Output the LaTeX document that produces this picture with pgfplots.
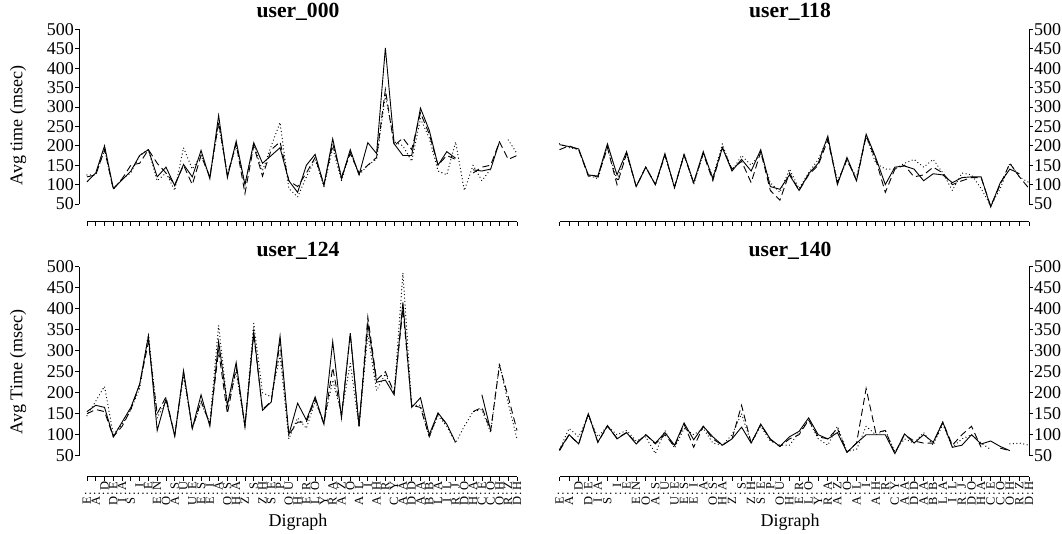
\documentclass[border=0pt]{standalone}
\usepackage{pgfplots}
\pgfplotsset{compat=1.18}
\usepackage{pgfplotstable}
\usepackage{fontspec}
\setmainfont{Liberation Serif}

\pgfplotstableread{
i s d t
0 107 120 125
1 130 125 125
2 200 190 190
3 90 88 88
4 112 115 115
5 135 150 130
6 175 155 175
7 190 190 190
8 120 155 110
9 145 130 130
10 97 100 85
11 152 150 195
12 120 100 140
13 188 175 175
14 115 120 120
15 278 260 255
16 118 125 125
17 212 205 200
18 100 77 100
19 208 200 205
20 155 122 135
21 175 190 200
22 195 210 260
23 110 110 90
24 80 95 68
25 150 130 120
26 178 170 165
27 98 100 95
28 218 205 195
29 115 120 110
30 190 180 185
31 125 130 125
32 208 150 150
33 180 170 165
34 452 345 330
35 205 200 210
36 175 220 200
37 175 190 160
38 297 285 270
39 240 230 220
40 150 150 135
41 185 175 125
42 168 165 210
43 nan nan 85
44 138 130 150
45 135 145 110
46 140 150 140
47 210 210 nan
48 nan 165 215
49 nan 175 180
}\userA

\pgfplotstableread{
i s d t
0 203 190 205
1 198 200 195
2 192 190 190
3 125 122 125
4 122 120 115
5 205 195 200
6 125 100 110
7 185 180 180
8 95 95 95
9 145 145 145
10 100 100 100
11 180 175 175
12 92 95 90
13 178 175 180
14 105 105 100
15 185 180 180
16 115 110 120
17 195 195 205
18 135 140 135
19 165 160 175
20 135 105 150
21 190 185 180
22 95 85 105
23 88 60 80
24 125 130 140
25 85 85 90
26 128 125 130
27 155 150 165
28 225 215 220
29 100 105 110
30 170 165 160
31 110 110 120
32 230 225 225
33 170 165 155
34 100 80 140
35 145 140 140
36 148 150 155
37 140 120 165
38 110 125 145
39 128 145 165
40 125 130 130
41 105 100 85
42 118 110 130
43 120 118 125
44 120 118 90
45 42 45 45
46 105 100 90
47 140 155 155
48 128 120 120
49 nan 90 105
}\userB

\pgfplotstableread{
i s d t
0 155 150 145
1 170 160 180
2 165 155 215
3 95 95 100
4 130 120 125
5 165 160 160
6 220 220 210
7 335 320 340
8 110 150 140
9 185 190 180
10 97 97 100
11 252 250 240
12 115 115 115
13 195 180 175
14 120 125 130
15 322 300 360
16 170 150 170
17 272 260 250
18 120 120 120
19 345 340 365
20 158 160 200
21 178 180 190
22 335 320 290
23 100 100 90
24 175 130 140
25 135 130 115
26 190 185 180
27 125 125 130
28 322 260 230
29 140 145 150
30 342 340 270
31 120 120 120
32 365 380 340
33 225 230 205
34 230 250 245
35 195 200 200
36 415 400 485
37 165 170 170
38 188 165 170
39 100 95 95
40 152 150 145
41 125 125 120
42 82 nan 80
43 nan nan 120
44 nan 155 155
45 195 165 160
46 110 110 105
47 nan 265 270
48 nan 190 175
49 nan 110 90
}\userC

\pgfplotstableread{
i s d t
0 65 62 65
1 100 100 115
2 78 78 95
3 150 150 145
4 82 82 95
5 122 120 120
6 90 92 100
7 105 105 110
8 78 80 85
9 100 100 95
10 80 78 55
11 105 100 110
12 75 72 68
13 128 125 115
14 88 70 100
15 120 120 115
16 95 90 80
17 75 75 75
18 90 90 100
19 118 170 150
20 80 80 80
21 125 125 120
22 90 88 85
23 72 72 75
24 95 90 75
25 108 100 105
26 140 135 135
27 100 95 90
28 90 90 75
29 105 115 120
30 58 58 60
31 80 80 65
32 100 210 120
33 100 105 100
34 100 110 110
35 55 55 60
36 102 100 90
37 80 85 80
38 100 80 105
39 82 80 75
40 130 130 125
41 70 75 70
42 75 100 90
43 100 120 100
44 78 70 80
45 85 nan 65
46 72 68 nan
47 62 62 78
48 nan nan 80
49 nan 45 75
}\userD

\newcommand\lb[2]{\makebox[9pt][c]{#1}\makebox[6pt][c]{:}\makebox[9pt][c]{#2}\vphantom{H}}

\pgfplotsset{
  diglabels/.style={xticklabels={\lb{E}{},\lb{A}{},\lb{}{D},\lb{D}{E},\lb{I}{A},\lb{S}{},\lb{}{I},\lb{}{E},\lb{E}{N},\lb{O}{},
\lb{A}{S},\lb{}{U},\lb{U}{E},\lb{E}{S},\lb{E}{I},\lb{}{A},\lb{O}{S},\lb{H}{A},\lb{Z}{},\lb{}{S},
\lb{Z}{H},\lb{S}{E},\lb{}{P},\lb{O}{U},\lb{H}{},\lb{E}{R},\lb{L}{O},\lb{Y}{},\lb{R}{A},\lb{A}{Z},
\lb{}{O},\lb{A}{L},\lb{}{I},\lb{A}{H},\lb{}{R},\lb{C}{Y},\lb{A}{A},\lb{D}{D},\lb{A}{A},\lb{B}{B},
\lb{L}{A},\lb{I}{L},\lb{R}{J},\lb{D}{O},\lb{H}{A},\lb{C}{E},\lb{C}{O},\lb{O}{H},\lb{R}{Z},\lb{D}{H}}},
  panel/.style={
    scale only axis,
    ymax=500, xmax=49,
    axis x line*=bottom,
    axis line style={draw=none},
    tick align=outside, major tick length=4pt,
    tick style={black, line width=0.8pt},
    xtick={0,...,49}, ytick={50,100,...,500},
    /pgf/number format/assume math mode=true,
    yticklabel style={font=\fontsize{18}{18}\selectfont, inner sep=1pt},
    xticklabel style={font=\fontsize{12.5}{12.5}\selectfont, rotate=90, anchor=east, inner sep=0.5pt},
    title style={font=\bfseries\fontsize{21.6}{22}\selectfont, at={(0.5,1)}, anchor=center},
    label style={font=\fontsize{18}{20}\selectfont},
    clip=false, unbounded coords=jump,
  },
  toprow/.style={height=192.4pt, ymin=4.5, title style={yshift=11pt}, xticklabels={}},
  botrow/.style={height=210pt, ymin=0, title style={yshift=10pt}, diglabels,
    xlabel={Digraph}, xlabel style={at={(axis description cs:0.5,-0.216)}, anchor=center}},
  leftp/.style={panel, width=438pt, xmin=-0.91, axis y line*=left,
    ylabel style={at={(axis description cs:-0.139,0.5)}, anchor=center}},
  rightp/.style={panel, width=478pt, xmin=-0.89, axis y line*=right},
  sol/.style={black, line width=0.9pt},
  das/.style={black, line width=0.9pt, dash pattern=on 7pt off 4pt},
  dot/.style={black, line width=1.3pt, line cap=round, dash pattern=on 0pt off 3.5pt},
}

\begin{document}
\begin{tikzpicture}[x=1pt,y=1pt]
\useasboundingbox (0,0) rectangle (1062,533);

\begin{axis}[leftp, toprow, at={(79pt,311.3pt)}, title={user\_000}, ylabel={Avg time (msec)}]
\addplot[sol] table[x=i,y=s]{\userA};
\addplot[das] table[x=i,y=d]{\userA};
\addplot[dot] table[x=i,y=t]{\userA};
\draw[line width=0.8pt] (axis cs:0,4.5) -- (axis cs:49,4.5);
\draw[line width=0.8pt] (axis cs:-0.91,50) -- (axis cs:-0.91,500);
\end{axis}

\begin{axis}[rightp, toprow, at={(551pt,311.3pt)}, title={user\_118}]
\addplot[sol] table[x=i,y=s]{\userB};
\addplot[das] table[x=i,y=d]{\userB};
\addplot[dot] table[x=i,y=t]{\userB};
\draw[line width=0.8pt] (axis cs:0,4.5) -- (axis cs:49,4.5);
\draw[line width=0.8pt] (axis cs:49,50) -- (axis cs:49,500);
\end{axis}

\begin{axis}[leftp, botrow, at={(79pt,56.3pt)}, title={user\_124}, ylabel={Avg Time (msec)}]
\addplot[sol] table[x=i,y=s]{\userC};
\addplot[das] table[x=i,y=d]{\userC};
\addplot[dot] table[x=i,y=t]{\userC};
\draw[line width=0.8pt] (axis cs:0,0) -- (axis cs:49,0);
\draw[line width=0.8pt] (axis cs:-0.91,50) -- (axis cs:-0.91,500);
\end{axis}

\begin{axis}[rightp, botrow, at={(551pt,56.3pt)}, title={user\_140}]
\addplot[sol] table[x=i,y=s]{\userD};
\addplot[das] table[x=i,y=d]{\userD};
\addplot[dot] table[x=i,y=t]{\userD};
\draw[line width=0.8pt] (axis cs:0,0) -- (axis cs:49,0);
\draw[line width=0.8pt] (axis cs:49,50) -- (axis cs:49,500);
\end{axis}
\end{tikzpicture}
\end{document}
